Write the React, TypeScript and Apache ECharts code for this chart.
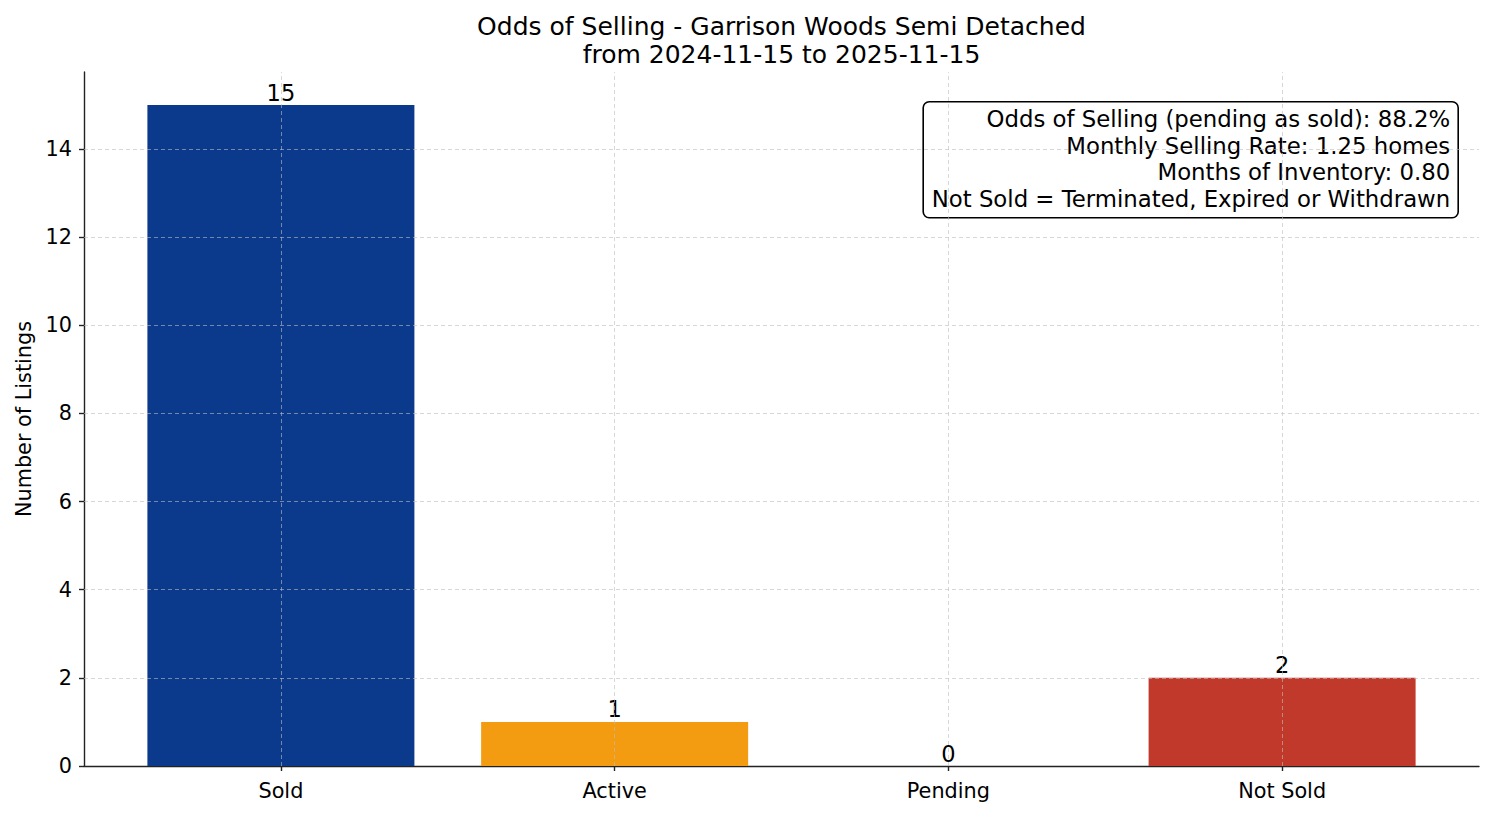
import React, { useEffect, useRef } from 'react';
import * as echarts from 'echarts';

// chart data
const categories = ['Sold', 'Active', 'Pending', 'Not Sold'];
const counts = [15, 1, 0, 2];
const barColors = ['#0B3A8D', '#F39C12', '#7F8C8D', '#C0392B'];
const yTicks = [0, 2, 4, 6, 8, 10, 12, 14];
const titleLines = ['Odds of Selling - Garrison Woods Semi Detached', 'from 2024-11-15 to 2025-11-15'];
const infoLines = [
  'Odds of Selling (pending as sold): 88.2%',
  'Monthly Selling Rate: 1.25 homes',
  'Months of Inventory: 0.80',
  'Not Sold = Terminated, Expired or Withdrawn',
];

const FONT = '"DejaVu Sans", Verdana, sans-serif';

const App: React.FC = () => {
  const chartRef = useRef<HTMLDivElement>(null);

  useEffect(() => {
    document.body.style.margin = '0';
    if (!chartRef.current) return;
    const chart = echarts.init(chartRef.current, undefined, { renderer: 'svg' });

    const xIdx = categories.map((_, i) => i);
    const gridStyle = { color: 'rgba(190,190,190,0.75)', width: 0.8, type: [4, 3] as number[] };
    const spine = { color: '#222', width: 1.4 };

    const option = {
      animation: false,
      backgroundColor: '#ffffff',
      textStyle: { fontFamily: FONT },
      title: {
        text: titleLines.join('\n'),
        left: 781.5,
        top: 12,
        padding: 0,
        textAlign: 'center',
        textStyle: { fontFamily: FONT, fontSize: 25, fontWeight: 'normal', color: '#000', lineHeight: 28 },
      },
      grid: { left: 84, right: 15, top: 72, bottom: 50 },
      xAxis: {
        type: 'value',
        min: -0.59,
        max: 3.59,
        axisLine: { show: true, onZero: false, lineStyle: spine },
        axisTick: { show: true, customValues: xIdx, length: 5, lineStyle: spine },
        axisLabel: {
          customValues: xIdx,
          formatter: (v: number) => categories[Math.round(v)] ?? '',
          fontFamily: FONT,
          fontSize: 20.8,
          color: '#000',
          margin: 14,
        },
        splitLine: { show: false },
      },
      yAxis: {
        type: 'value',
        min: 0,
        max: 15.75,
        name: 'Number of Listings',
        nameLocation: 'middle',
        nameGap: 50,
        nameTextStyle: { fontFamily: FONT, fontSize: 20.8, color: '#000' },
        axisLine: { show: true, onZero: false, lineStyle: spine },
        axisTick: { show: true, customValues: yTicks, length: 5, lineStyle: spine },
        axisLabel: {
          customValues: yTicks,
          fontFamily: FONT,
          fontSize: 20.8,
          color: '#000',
          margin: 12,
        },
        splitLine: { show: false },
      },
      series: [
        {
          type: 'bar',
          barWidth: 267,
          z: 2,
          data: counts.map((c, i) => ({ value: [i, c], itemStyle: { color: barColors[i] } })),
          label: {
            show: true,
            position: 'top',
            distance: 1,
            formatter: (p: any) => String(p.value[1]),
            fontFamily: FONT,
            fontSize: 22.5,
            color: '#000',
          },
        },
        {
          // grid lines drawn on top of bars
          type: 'line',
          data: [],
          z: 3,
          silent: true,
          markLine: {
            silent: true,
            symbol: ['none', 'none'],
            label: { show: false },
            lineStyle: gridStyle,
            emphasis: { disabled: true },
            data: [
              ...yTicks.filter((t) => t > 0).map((t) => ({ yAxis: t })),
              ...xIdx.map((i) => ({ xAxis: i })),
            ],
          },
        },
      ],
      graphic: [
        {
          type: 'group',
          right: 35,
          top: 101,
          z: 10,
          children: [
            {
              type: 'rect',
              shape: { x: 0, y: 0, width: 535, height: 116, r: 6 },
              style: { fill: '#fff', stroke: '#000', lineWidth: 1.6 },
            },
            ...infoLines.map((line, i) => ({
              type: 'text',
              x: 527,
              y: 17 + i * 26.7,
              style: {
                text: line,
                fontFamily: FONT,
                fontSize: 22.8,
                fill: '#000',
                align: 'right',
                verticalAlign: 'middle',
              },
            })),
          ],
        },
      ],
    };

    chart.setOption(option as any);

    return () => {
      chart.dispose();
    };
  }, []);

  return <div ref={chartRef} style={{ width: '1494px', height: '816px' }} />;
};

export default App;
